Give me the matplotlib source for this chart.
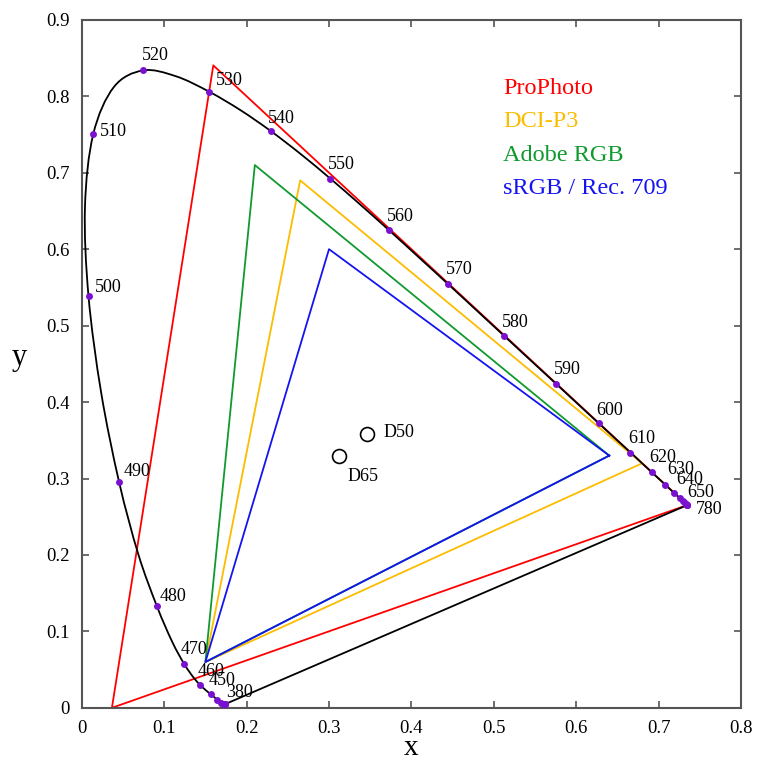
import matplotlib
matplotlib.use("Agg")
import matplotlib.pyplot as plt
from matplotlib.path import Path
from matplotlib.patches import PathPatch
import numpy as np

plt.rcParams['font.family'] = ['Liberation Serif', 'DejaVu Serif']

# CIE 1931 2-degree spectral locus (chromaticity x, y)
wl = [380, 385, 390, 395, 400, 405, 410, 415, 420, 425, 430, 435, 440, 445, 450, 455,
      460, 465, 470, 475, 480, 485, 490, 495, 500, 505, 510, 515, 520, 525, 530, 535,
      540, 545, 550, 555, 560, 565, 570, 575, 580, 585, 590, 595, 600, 605, 610, 615,
      620, 625, 630, 635, 640, 645, 650, 655, 660, 665, 670, 680, 690, 700, 780]
locus_x = [0.1741, 0.1740, 0.1738, 0.1736, 0.1733, 0.1730, 0.1726, 0.1721, 0.1714, 0.1703,
           0.1689, 0.1669, 0.1644, 0.1611, 0.1566, 0.1510, 0.1440, 0.1355, 0.1241, 0.1096,
           0.0913, 0.0687, 0.0454, 0.0235, 0.0082, 0.0039, 0.0139, 0.0389, 0.0743, 0.1142,
           0.1547, 0.1929, 0.2296, 0.2658, 0.3016, 0.3373, 0.3731, 0.4087, 0.4441, 0.4788,
           0.5125, 0.5448, 0.5752, 0.6029, 0.6270, 0.6482, 0.6658, 0.6801, 0.6915, 0.7006,
           0.7079, 0.7140, 0.7190, 0.7230, 0.7260, 0.7283, 0.7300, 0.7311, 0.7320, 0.7334,
           0.7344, 0.7347, 0.7347]
locus_y = [0.0050, 0.0050, 0.0049, 0.0049, 0.0048, 0.0048, 0.0048, 0.0048, 0.0051, 0.0058,
           0.0069, 0.0086, 0.0109, 0.0138, 0.0177, 0.0227, 0.0297, 0.0399, 0.0578, 0.0868,
           0.1327, 0.2007, 0.2950, 0.4127, 0.5384, 0.6548, 0.7502, 0.8120, 0.8338, 0.8262,
           0.8059, 0.7816, 0.7543, 0.7243, 0.6923, 0.6589, 0.6245, 0.5896, 0.5547, 0.5202,
           0.4866, 0.4544, 0.4242, 0.3965, 0.3725, 0.3514, 0.3340, 0.3197, 0.3083, 0.2993,
           0.2920, 0.2859, 0.2809, 0.2770, 0.2740, 0.2717, 0.2700, 0.2689, 0.2680, 0.2666,
           0.2656, 0.2653, 0.2653]

labeled_wl = [380, 450, 460, 470, 480, 490, 500, 510, 520, 530, 540, 550, 560, 570, 580,
              590, 600, 610, 620, 630, 640, 650, 780]

gamut_names = ['ProPhoto', 'DCI-P3', 'Adobe RGB', 'sRGB / Rec. 709']
gamut_x = [[0.7347, 0.1596, 0.0366],
           [0.680, 0.265, 0.150],
           [0.640, 0.210, 0.150],
           [0.640, 0.300, 0.150]]
gamut_y = [[0.2653, 0.8404, 0.0001],
           [0.320, 0.690, 0.060],
           [0.330, 0.710, 0.060],
           [0.330, 0.600, 0.060]]
gamut_colors = ['#ff0000', '#fcbc00', '#109a2e', '#1414f0']

wp_names = ['D50', 'D65']
wp_x = [0.3457, 0.3127]
wp_y = [0.3585, 0.3290]

fig = plt.figure(figsize=(7.57, 7.62), dpi=100)
ax = fig.add_axes([0.108, 0.071, 0.871, 0.903])

# gamut triangles
for gx, gy, c in zip(gamut_x, gamut_y, gamut_colors):
    ax.plot(gx + [gx[0]], gy + [gy[0]], color=c, lw=1.3, zorder=2)

# spectral locus drawn as a smooth Bezier path through the data points (up to 700 nm)
px = np.array(locus_x[:-1])
py = np.array(locus_y[:-1])
verts = [(px[0], py[0])]
codes = [Path.MOVETO]
n = len(px)
for i in range(n - 1):
    p0 = np.array([px[max(i - 1, 0)], py[max(i - 1, 0)]])
    p1 = np.array([px[i], py[i]])
    p2 = np.array([px[i + 1], py[i + 1]])
    p3 = np.array([px[min(i + 2, n - 1)], py[min(i + 2, n - 1)]])
    c1 = p1 + (p2 - p0) / 6.0
    c2 = p2 - (p3 - p1) / 6.0
    verts += [tuple(c1), tuple(c2), tuple(p2)]
    codes += [Path.CURVE4, Path.CURVE4, Path.CURVE4]
verts.append((locus_x[-1], locus_y[-1]))
codes.append(Path.LINETO)
verts.append((locus_x[0], locus_y[0]))
codes.append(Path.LINETO)
ax.add_patch(PathPatch(Path(verts, codes), facecolor='none', edgecolor='black',
                       lw=1.3, zorder=3))

# dots every 10 nm
dot_idx = [i for i, w in enumerate(wl) if (w % 10 == 0)]
ax.plot([locus_x[i] for i in dot_idx], [locus_y[i] for i in dot_idx], 'o',
        color='#7a10d0', ms=5, mec='none', zorder=4)

label_off = {380: (1, 12), 450: (-2, 14), 460: (-3, 14), 470: (-3, 14), 480: (3, 10),
             490: (4, 11), 500: (6, 9), 510: (7, 3), 520: (-1, 15), 530: (7, 11),
             540: (-3, 13), 550: (-2, 14), 560: (-2, 14), 570: (-2, 14), 580: (-2, 13),
             590: (-2, 14), 600: (-2, 13), 610: (-2, 14), 620: (-2, 15), 630: (2, 15),
             640: (2, 14), 650: (7, 6), 780: (9, -4)}
for w in labeled_wl:
    i = wl.index(w)
    dx, dy = label_off[w]
    ax.annotate(str(w), (locus_x[i], locus_y[i]), xytext=(dx, dy),
                textcoords='offset pixels', ha='left', va='center', fontsize=13,
                color='black', zorder=5)

# white points
ax.plot(wp_x, wp_y, 'o', ms=10, mfc='none', mec='black', mew=1.2, zorder=5)
ax.annotate(wp_names[0], (wp_x[0], wp_y[0]), xytext=(17, 1), textcoords='offset pixels',
            ha='left', va='center', fontsize=13)
ax.annotate(wp_names[1], (wp_x[1], wp_y[1]), xytext=(8, -20), textcoords='offset pixels',
            ha='left', va='center', fontsize=13)

# legend text
leg_y = [0.810, 0.767, 0.723, 0.679]
for name, c, ly in zip(gamut_names, gamut_colors, leg_y):
    ax.text(0.511, ly, name, color=c, fontsize=17.5, ha='left', va='center')

ax.set_xlim(0, 0.8)
ax.set_ylim(0, 0.9)
xt = np.round(np.arange(0, 0.81, 0.1), 1)
yt = np.round(np.arange(0, 0.91, 0.1), 1)
ax.set_xticks(xt)
ax.set_yticks(yt)
ax.set_xticklabels(['0' if v == 0 else f'{v:g}' for v in xt])
ax.set_yticklabels(['0' if v == 0 else f'{v:g}' for v in yt])
ax.tick_params(direction='in', length=5, width=1.2, color='#555555', labelsize=13.5,
               top=True, right=True, pad=9)
for s in ax.spines.values():
    s.set_color('#555555')
    s.set_linewidth(1.5)

ax.set_xlabel('x', fontsize=21)
ax.set_ylabel('y', fontsize=22, rotation=0, va='center', ha='center')
ax.xaxis.set_label_coords(0.5, -0.068)
ax.yaxis.set_label_coords(-0.094, 0.509)
ax.xaxis.label.set_va('baseline')

fig.savefig('out.png', dpi=100)
